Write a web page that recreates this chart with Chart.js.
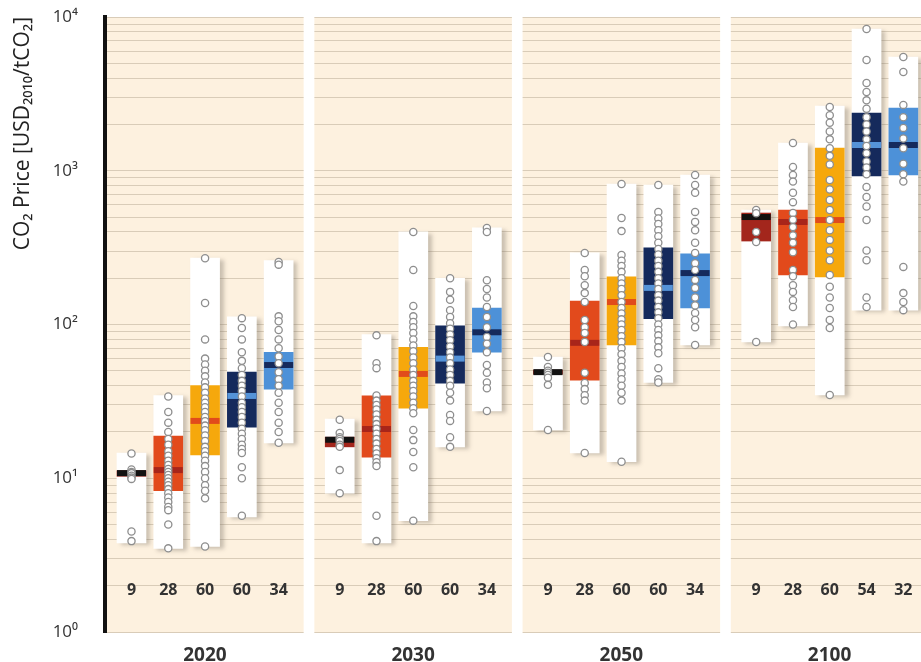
<!DOCTYPE html>
<html>
<head>
<meta charset="utf-8">
<title>CO2 price ranges</title>
<script src="https://cdn.jsdelivr.net/npm/chart.js@4.4.1/dist/chart.umd.min.js"></script>
<style>
  html, body { margin: 0; padding: 0; background: #fff; overflow: hidden; }
  #wrap { position: relative; width: 921px; height: 662px; }
  #chart { display: block; }
</style>
</head>
<body>
<div id="wrap"><canvas id="chart"></canvas></div>
<script>
/* ---------------------------------------------------------------
   CO2 price by scenario category, four time slices (log scale)
   white bar = full range, coloured bar = 25–75 %, line = median,
   circles = individual scenarios
   --------------------------------------------------------------- */

// -----------------------------------------------------------------
// DATA
// -----------------------------------------------------------------
const YEARS = ["2020", "2030", "2050", "2100"];

const SCENARIO_COUNTS = [
  [9, 28, 60, 60, 34],
  [9, 28, 60, 60, 34],
  [9, 28, 60, 60, 34],
  [9, 28, 60, 54, 32],
];

const RANGE_LOW = [
  [3.8, 3.5, 3.6, 5.6, 17],
  [8.0, 3.8, 5.3, 16, 27.4],
  [20.6, 14.6, 12.8, 42, 73.6],
  [77, 98, 34.8, 124, 124],
];
const RANGE_HIGH = [
  [14.6, 34.5, 270, 112, 260],
  [24.3, 86, 400, 200, 425],
  [61.5, 292, 820, 808, 938],
  [555, 1514, 2637, 8350, 5490],
];
const Q1 = [
  [10.3, 8.3, 14.2, 21.5, 38],
  [16, 13.7, 28.6, 41.6, 66],
  [47.5, 43.5, 73.6, 109, 128],
  [349, 210, 204, 925, 938],
];
const Q3 = [
  [11.2, 18.8, 40, 49, 66],
  [18.5, 34.3, 71, 98, 128],
  [50.5, 142, 204, 315, 288],
  [531, 555, 1406, 2375, 2560],
];
const MEDIAN = [
  [10.8, 11.3, 23.6, 34.3, 54.5],
  [17.8, 20.9, 47.7, 60, 89],
  [49, 76, 140, 173, 216],
  [500, 464, 478, 1470, 1470],
];

// individual scenarios (overlapping ones estimated)
const POINTS_2020 = [
  [14.5, 11.4, 11.0, 10.8, 10.4, 10.1, 9.9, 4.5, 3.9],
  [34, 27, 23, 20, 18, 16.5, 15, 14, 13, 12.2, 11.5, 11, 10.5, 10, 9.5, 9, 8.5, 8, 7.5, 7, 6.5, 6.2, 5, 3.5],
  [270, 138, 80, 60, 55, 50, 46, 42, 39, 36, 33, 31, 29, 27, 25, 23.5, 22, 20.5, 19, 17.5, 16, 15, 14, 13, 12, 11, 10, 9, 8.3, 7.4, 3.6],
  [110, 95, 80, 66, 58, 52, 47, 43, 40, 37, 34, 31, 29, 27, 25, 23, 21, 19.5, 18, 16.5, 15.5, 14.6, 11.8, 10, 5.7],
  [255, 245, 113, 105, 92, 80, 70, 62, 56, 49, 44, 40, 36, 31, 27, 23, 20, 17],
];
const POINTS_2030 = [
  [24, 19.7, 18.5, 18, 17.5, 16.5, 16, 11.3, 8.0],
  [85, 56, 52, 34.5, 32, 30, 28, 26, 24, 22.5, 21, 19.5, 18, 16.8, 15.5, 14.5, 13.5, 12.7, 12, 5.7, 3.9],
  [400, 226, 132, 113, 104, 96, 88, 80, 73, 67, 61, 56, 51, 47, 43, 40, 37, 34, 31, 28.5, 26.5, 20.6, 17.7, 14.8, 11.8, 5.3],
  [200, 163, 145, 124, 112, 102, 94, 86, 79, 72, 66, 61, 56, 51, 47, 43, 40, 36, 32, 25.8, 23.6, 18.5, 16],
  [425, 400, 194, 170, 150, 130, 112, 96, 83, 75, 66, 54.5, 48.5, 42, 38.5, 27.4],
];
const POINTS_2050 = [
  [61.5, 53, 50, 48.5, 47, 45, 40.5, 20.6],
  [292, 226, 206, 180, 160, 140, 107, 96, 88, 77, 48.5, 41.6, 38, 34.7, 32, 14.6],
  [820, 493, 405, 283, 260, 240, 220, 200, 185, 170, 155, 140, 128, 118, 108, 100, 92, 84, 77, 70, 64, 58, 53, 48, 44, 40, 36, 32, 12.8],
  [808, 540, 490, 450, 410, 375, 340, 310, 285, 260, 240, 220, 200, 185, 170, 155, 143, 130, 120, 110, 100, 92, 85, 78, 71, 65, 52, 44, 42],
  [938, 808, 720, 540, 465, 410, 340, 292, 250, 226, 195, 173, 150, 133, 119, 107, 96, 73.6],
];
const POINTS_2100 = [
  [555, 530, 400, 344, 77],
  [1514, 1058, 938, 850, 720, 625, 531, 480, 430, 380, 340, 295, 226, 206, 180, 163, 144, 130, 100],
  [2600, 2300, 2050, 1800, 1600, 1400, 1250, 1100, 870, 755, 645, 555, 478, 410, 355, 303, 262, 210, 176, 150, 128, 107, 95, 34.8],
  [8350, 5250, 3720, 3250, 2870, 2530, 2230, 2000, 1800, 1600, 1450, 1300, 1150, 1050, 950, 785, 675, 585, 478, 303, 262, 150, 130],
  [5490, 4390, 2680, 2230, 1900, 1620, 1400, 1110, 950, 850, 237, 160, 140, 124],
];
const POINTS = [POINTS_2020, POINTS_2030, POINTS_2050, POINTS_2100];

// log gridlines 1..9 x 10^n, labels only on the decades
const Y_DECADES = [1, 10, 100, 1000];
const Y_MULTIPLIERS = [1, 2, 3, 4, 5, 6, 7, 8, 9];
const Y_TICKS = Y_DECADES.flatMap((d) => Y_MULTIPLIERS.map((m) => m * d)).concat([10000]);
const SUPERSCRIPT = ["⁰", "¹", "²", "³", "⁴"];

// -----------------------------------------------------------------
// STYLE / LAYOUT
// -----------------------------------------------------------------
const BOX_COLORS    = ["#a3261c", "#e24a1c", "#f6a80c", "#152a5c", "#4d91d8"];
const MEDIAN_COLORS = ["#111111", "#a8251a", "#e14b1b", "#5593d8", "#152a5c"];
const CREAM   = "#fdf1df";
const GRID    = "#d9ccb8";
const TEXT    = "#333333";
const FONT    = "'Open Sans', 'Noto Sans', sans-serif";

// x units = one category slot
const PANEL_STEP   = 5.66;
const PANEL_WIDTH  = 5.37;
const FIRST_OFFSET = 0.69;
const xOf = (p, i) => p * PANEL_STEP + FIRST_OFFSET + i;

// kill the automatic label overflow padding so the plot area is exact
const noPadding = (s) => {
  s.paddingTop = 0;
  s.paddingBottom = 0;
  s.paddingLeft = 0;
  s.paddingRight = 0;
};

// -----------------------------------------------------------------
// BUILD DATASETS
// -----------------------------------------------------------------
const rangeData = [], boxData = [], medianData = [], pointData = [];
YEARS.forEach((_, p) => {
  for (let i = 0; i < 5; i++) {
    const x = xOf(p, i);
    rangeData.push({ x, y: [RANGE_LOW[p][i], RANGE_HIGH[p][i]] });
    boxData.push({ x, y: [Q1[p][i], Q3[p][i]] });
    medianData.push({ x, y: MEDIAN[p][i] });
    POINTS[p][i].forEach((v) => pointData.push({ x, y: v }));
  }
});

// -----------------------------------------------------------------
// PLUGINS
// -----------------------------------------------------------------
const panelBackground = {
  id: "panelBackground",
  beforeDraw(chart) {
    const { ctx, chartArea: a } = chart;
    ctx.save();
    ctx.fillStyle = "#fff";
    ctx.fillRect(0, 0, chart.width, chart.height);
    ctx.fillStyle = CREAM;
    ctx.fillRect(a.left, a.top, a.right - a.left, a.bottom - a.top);
    ctx.restore();
  },
  // white gutters between the four time panels (over the gridlines)
  beforeDatasetsDraw(chart) {
    const { ctx, chartArea: a } = chart;
    const xs = chart.scales.x;
    ctx.save();
    ctx.fillStyle = "#fff";
    for (let p = 0; p < YEARS.length - 1; p++) {
      const l = xs.getPixelForValue(p * PANEL_STEP + PANEL_WIDTH);
      const r = xs.getPixelForValue((p + 1) * PANEL_STEP);
      ctx.fillRect(l, a.top - 1, r - l, a.bottom - a.top + 2);
    }
    ctx.restore();
  },
};

const rangeShadow = {
  id: "rangeShadow",
  beforeDatasetDraw(chart, args) {
    if (args.index !== 0) return;
    const ctx = chart.ctx;
    ctx.save();
    ctx.shadowColor = "rgba(110,100,90,0.35)";
    ctx.shadowBlur = 4;
    ctx.shadowOffsetX = 4;
    ctx.shadowOffsetY = 2;
  },
  afterDatasetDraw(chart, args) {
    if (args.index === 0) chart.ctx.restore();
  },
};

const countLabels = {
  id: "countLabels",
  afterDatasetsDraw(chart) {
    const { ctx, chartArea: a } = chart;
    const xs = chart.scales.x;
    ctx.save();
    ctx.font = `bold 16px ${FONT}`;
    ctx.fillStyle = TEXT;
    ctx.textAlign = "center";
    ctx.textBaseline = "middle";
    SCENARIO_COUNTS.forEach((row, p) => {
      row.forEach((n, i) => ctx.fillText(String(n), xs.getPixelForValue(xOf(p, i)), a.bottom - 42));
    });
    ctx.restore();
  },
};

// -----------------------------------------------------------------
// CHART
// -----------------------------------------------------------------
new Chart(document.getElementById("chart"), {
  type: "bar",
  data: {
    datasets: [
      {
        label: "range",
        data: rangeData,
        backgroundColor: "#ffffff",
        borderWidth: 0,
        barThickness: 29,
        grouped: false,
        order: 4,
      },
      {
        label: "interquartile",
        data: boxData,
        backgroundColor: (c) => BOX_COLORS[c.dataIndex % 5],
        borderWidth: 0,
        barThickness: 29,
        grouped: false,
        order: 3,
      },
      {
        type: "scatter",
        label: "median",
        data: medianData,
        pointStyle: "line",
        pointRadius: 14.5,
        pointBorderWidth: 6,
        pointBorderColor: (c) => MEDIAN_COLORS[c.dataIndex % 5],
        order: 2,
      },
      {
        type: "scatter",
        label: "scenarios",
        data: pointData,
        pointRadius: 3.6,
        pointBorderWidth: 1.3,
        pointBackgroundColor: "#ffffff",
        pointBorderColor: "#8e8e8e",
        order: 1,
      },
    ],
  },
  options: {
    responsive: true,
    maintainAspectRatio: false,
    animation: false,
    events: [],
    layout: { autoPadding: false, padding: { top: 17, left: 0, right: 0, bottom: 0 } },
    plugins: {
      legend: { display: false },
      tooltip: { enabled: false },
    },
    scales: {
      x: {
        type: "linear",
        offset: false,
        min: -0.03,
        max: 22.15,
        grid: { display: false },
        border: { display: false },
        afterBuildTicks: (s) => {
          s.ticks = YEARS.map((_, p) => ({ value: p * PANEL_STEP + PANEL_WIDTH / 2 }));
        },
        afterFit: (s) => { s.height = 30; noPadding(s); },
        ticks: {
          autoSkip: false,
          maxRotation: 0,
          padding: 4,
          color: TEXT,
          font: { family: FONT, size: 19, weight: "bold" },
          callback: (v, i) => YEARS[i],
        },
      },
      y: {
        type: "logarithmic",
        min: 1,
        max: 10000,
        afterBuildTicks: (s) => {
          s.ticks = Y_TICKS.map((v) => ({ value: v }));
        },
        afterFit: (s) => { s.width = 105; noPadding(s); },
        grid: { color: GRID, lineWidth: 1, drawTicks: false },
        border: { color: "#111", width: 4 },
        ticks: {
          autoSkip: false,
          padding: 27,
          color: TEXT,
          font: { family: FONT, size: 17 },
          callback: (v) => {
            const e = Math.round(Math.log10(v));
            return Math.abs(Math.log10(v) - e) < 1e-9 ? "10" + SUPERSCRIPT[e] : "";
          },
        },
        title: {
          display: true,
          text: "CO₂ Price [USD₂₀₁₀/tCO₂]",
          align: "end",
          color: "#222",
          font: { family: FONT, size: 21 },
          padding: { top: 10, bottom: 0 },
        },
      },
    },
  },
  plugins: [panelBackground, rangeShadow, countLabels],
});
</script>
</body>
</html>
